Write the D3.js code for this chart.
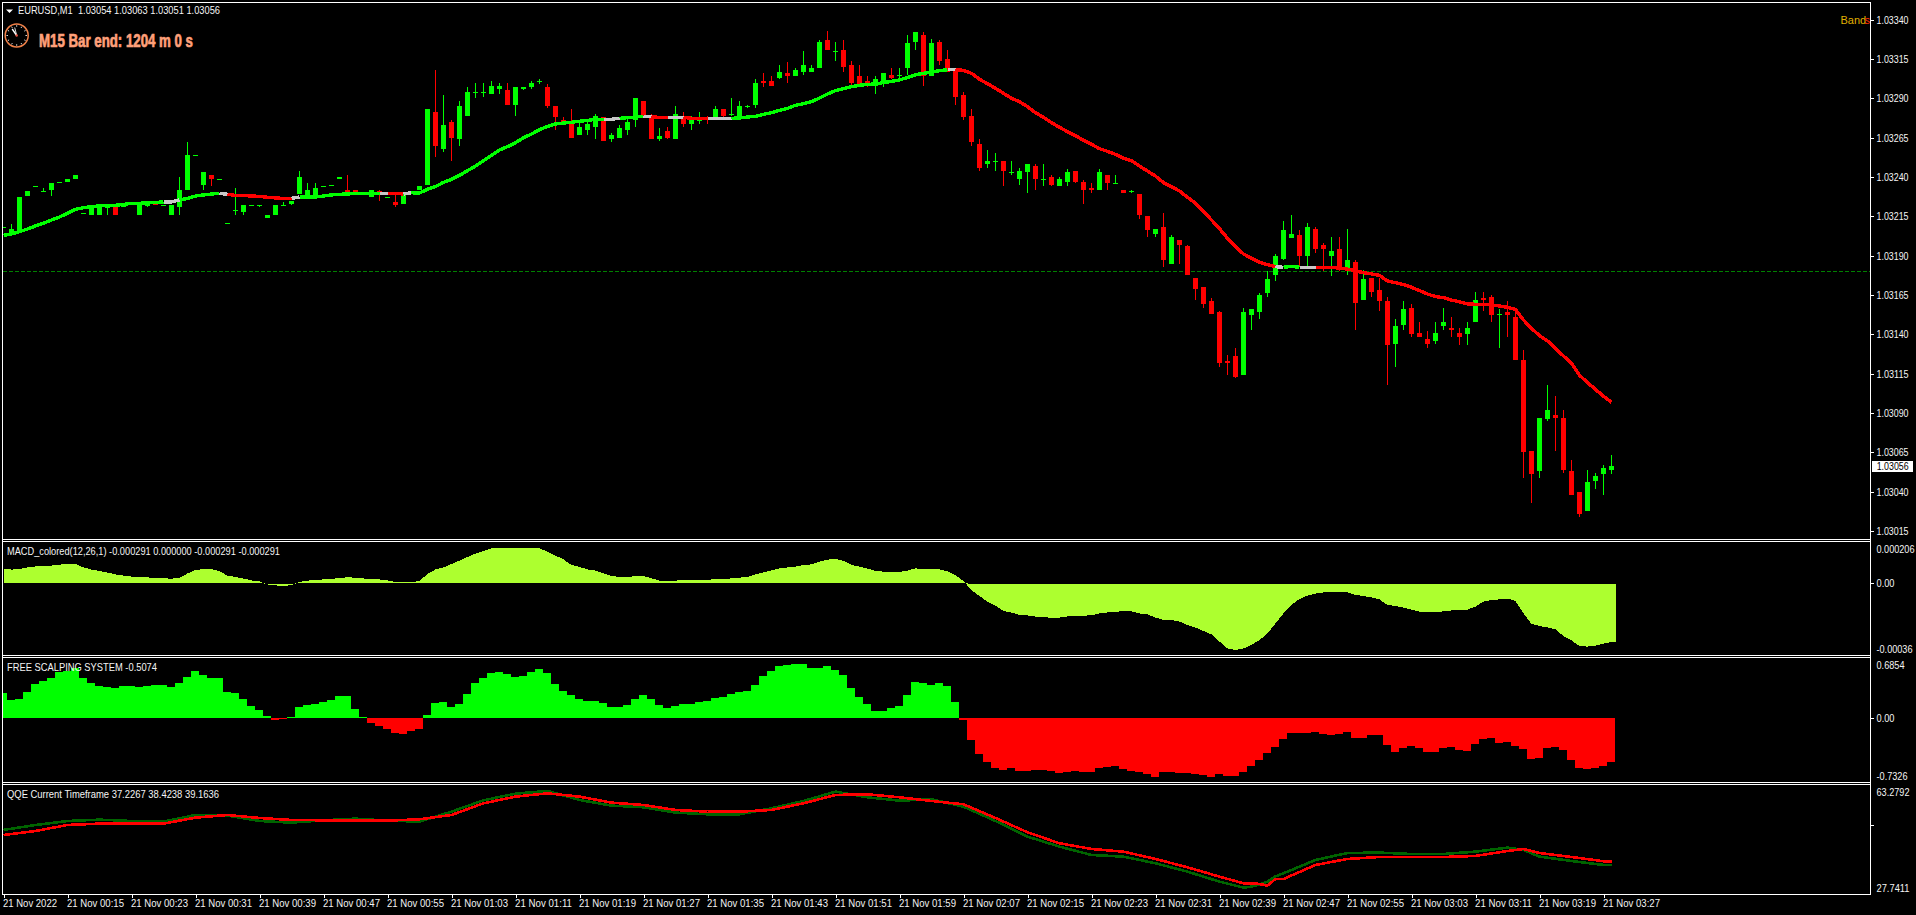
<!DOCTYPE html>
<html>
<head>
<meta charset="utf-8">
<script src="https://cdn.jsdelivr.net/npm/d3@7"></script>
<style>
html,body{margin:0;padding:0;background:#000;overflow:hidden}
svg{display:block;background:#000}
text{font-family:"Liberation Sans",Arial,sans-serif;font-size:11px;fill:#f4f4f4;white-space:pre}
</style>
</head>
<body>
<script>
// Prices are in points above 1.03000 (1 point = 0.00001)
const opens=[208,204,206,228,234,231,232,237,237,239,217,216,216,221,221,221,223,216,222,225,
222,216,221,232,254,235,241,239,211,219,218,222,222,214,216,222,223,229,228,228,
234,235,239,232,232,229,227,231,227,224,223,229,232,235,281,258,275,264,279,294,
294,293,296,295,286,296,297,301,297,285,276,275,267,270,272,278,264,265,270,276,
288,279,264,269,264,279,274,276,277,278,283,280,279,285,286,301,301,303,306,304,
307,307,309,327,320,321,311,304,301,298,300,305,305,309,326,330,304,326,315,309,
292,279,261,248,250,250,243,239,243,247,238,240,234,237,244,237,233,232,241,236,
232,231,229,215,204,208,185,200,196,176,170,161,154,123,126,114,152,154,166,178,
188,201,203,190,207,197,190,194,181,186,162,176,168,161,134,146,157,141,137,136,
145,144,141,140,148,163,164,153,154,151,124,66,53,86,89,87,53,40,28,47,51,54];
const highs=[208,210,227,231,234,233,236,237,239,241,217,221,221,221,221,223,223,223,222,225,
222,222,240,262,254,243,241,239,211,233,222,222,222,216,222,224,225,244,236,236,
234,235,240,241,232,229,232,232,227,229,229,231,234,283,308,292,276,288,297,300,
300,301,300,300,297,297,301,302,299,285,278,283,275,276,280,278,268,273,279,290,
288,280,271,272,285,281,279,281,279,285,283,290,288,286,302,306,304,311,313,309,
320,311,327,333,326,327,314,311,304,304,306,309,309,330,332,332,328,327,321,309,
294,283,264,257,255,250,250,246,248,248,248,241,240,245,244,238,236,245,241,241,
232,232,229,215,207,217,203,200,197,176,170,163,155,127,131,157,156,166,180,191,
212,216,206,211,208,198,202,202,207,187,181,176,176,164,150,161,159,148,142,148,
157,151,144,148,167,167,165,156,161,155,130,66,87,108,101,92,60,40,54,52,57,63];
const lows=[208,203,206,228,234,231,228,237,237,239,217,216,216,216,216,221,222,216,221,222,
222,216,216,232,254,232,234,239,211,216,216,222,221,214,216,222,222,229,228,228,
234,235,239,230,230,229,227,225,227,221,223,229,232,235,253,256,250,260,279,290,
291,293,293,286,279,295,296,299,284,270,274,265,267,267,264,263,262,265,267,272,
278,264,263,264,264,272,270,274,274,278,278,279,279,284,284,297,298,302,300,304,
305,307,309,321,314,307,298,299,297,293,297,302,303,305,321,298,304,311,307,286,
276,260,244,246,244,234,241,235,230,232,234,234,234,234,236,223,230,232,232,236,
230,230,213,202,202,183,185,185,178,162,157,153,119,114,112,114,143,150,164,174,
187,201,183,183,192,180,177,180,178,143,162,164,155,108,119,143,138,138,131,134,
143,138,133,133,148,155,148,131,138,124,49,33,49,85,66,52,38,24,28,42,38,51];
const closes=[208,207,227,231,234,231,236,237,239,241,217,221,221,221,216,223,222,223,222,222,
222,222,232,254,254,243,239,239,211,219,222,222,222,216,222,222,225,240,232,233,
234,235,240,230,230,229,232,230,227,222,229,231,234,283,260,273,265,285,294,294,
294,298,298,286,297,297,300,301,285,278,275,265,272,274,279,263,267,271,275,290,
279,264,266,265,280,274,276,276,276,283,279,280,285,285,300,300,298,307,304,308,
311,309,326,321,320,310,300,299,300,302,306,303,305,325,332,304,325,314,307,291,
278,262,246,250,250,244,243,244,248,239,239,235,239,243,237,232,232,243,236,236,
230,231,216,206,207,187,202,197,178,169,159,153,122,122,113,154,156,165,175,190,
206,204,190,208,194,194,193,181,187,160,175,167,161,133,145,156,140,138,134,141,
148,143,138,144,162,162,152,153,152,124,65,51,87,92,87,54,38,26,46,50,55,56];
const maValues=[202.9,203.8,205.3,206.9,208.9,210.6,212.7,214.6,216.9,219.5,220.5,221.2,221.6,222,222,222.6,223.3,223.3,223.5,223.9,
224.1,224.1,225.4,226.4,227.9,228.6,229.2,229.6,229,228.3,228.3,227.9,227.7,227.1,226.7,226.4,226.4,227.3,227.3,227.3,
227.9,228.6,229,229.2,229.6,229.6,229.6,229.6,229.6,229.6,229.2,230,229.8,232.2,233.9,236.6,238.5,241.1,244,247,
250.4,253.8,257.2,259.3,261.8,265,267.3,270.1,272.2,273.7,274.3,274.8,275.4,276,276.7,276.7,276.7,277.3,277.7,278.1,
278.6,278.3,277.9,277.9,277.9,277.9,277.3,277.3,277.3,277.3,277.3,277.3,277.5,278.1,278.6,279.8,280.9,282.4,283.6,285.6,
286.6,287.9,290.2,292.8,294.9,296.1,297.4,298.3,298.9,299.1,300,300.8,301.7,303.3,305,305.9,306.7,307.6,308.2,308.2,
307.8,305.9,302.1,299.3,296.4,293.2,290,287.9,284.7,280.9,277.9,274.5,271.6,268.8,266.3,263.3,260.8,258,256.3,254.4,
251.9,250.4,247,243.8,240.6,236.4,233.9,231.1,227.1,223.3,218,212.7,207.2,201,195.7,191.1,188.3,185.8,184.3,183,
182.6,183.2,182.6,182.6,182.6,182.6,182.6,182,181.5,180.3,179.2,178.4,177.5,173.9,172.8,171.6,169.9,167.8,165.6,164,
163.3,161.8,160.6,159.3,159.1,159.1,158.6,158,157.2,155.9,149.1,143.8,139.2,135.8,131.1,126.2,121.6,114,109.3,105,100.6,96.8];
const maRuns=[["up",20],["flat",2],["up",5],["flat",1],["down",8],["flat",1],["up",10],["flat",1],["down",2],["flat",1],["up",24],["flat",2],["up",3],["flat",1],["down",2],["flat",2],["down",3],["flat",3],["up",27],["flat",1],["down",40],["flat",1],["up",2],["flat",2],["down",37]];
const priceLine=180;
const priceTicks=[340,315,290,265,240,215,190,165,140,115,90,65,40,15];
const lastPrice=56;
// MACD in millionths
const macdValues=[73,67,70,78,83,85,87,92,95,95,78,67,60,52,43,37,32,30,28,25,
23,22,25,48,65,70,70,58,37,30,22,13,8,-7,-12,-15,-10,5,12,15,
18,22,23,30,25,23,18,18,13,5,5,5,10,45,68,78,95,112,130,147,
160,173,173,173,173,173,173,173,157,137,118,90,80,68,62,48,35,30,30,35,
35,23,12,10,12,15,15,17,17,18,20,23,27,30,43,53,63,73,78,82,
90,93,107,117,120,110,90,82,72,60,57,55,55,62,73,70,68,68,58,40,
10,-35,-65,-93,-113,-140,-148,-160,-162,-168,-172,-173,-173,-167,-165,-163,-162,-152,-147,-143,
-142,-142,-152,-157,-173,-185,-185,-193,-210,-223,-240,-257,-293,-327,-335,-327,-310,-285,-252,-202,
-152,-110,-80,-63,-53,-47,-43,-43,-47,-60,-65,-72,-82,-110,-115,-123,-133,-143,-145,-145,
-142,-137,-135,-133,-118,-93,-85,-82,-78,-90,-152,-205,-215,-222,-232,-265,-287,-315,-318,-313,-303,-295];
const fssValues=[.284,.201,.209,.292,.383,.417,.451,.523,.531,.569,.451,.398,.360,.349,.337,.360,.360,.349,.360,.372,
.372,.349,.394,.463,.531,.485,.451,.451,.292,.281,.212,.133,.087,.019,-.027,-.011,.004,.121,.144,.155,
.178,.201,.246,.246,.099,.008,-.057,-.095,-.129,-.174,-.186,-.152,-.129,.030,.167,.178,.121,.155,.269,.394,
.451,.508,.520,.497,.463,.474,.520,.554,.508,.383,.303,.258,.212,.190,.190,.167,.121,.121,.144,.212,
.258,.212,.144,.110,.133,.155,.155,.178,.190,.224,.235,.269,.292,.303,.372,.474,.531,.588,.599,.611,
.611,.565,.565,.588,.542,.485,.337,.235,.155,.076,.076,.110,.133,.258,.406,.394,.375,.394,.360,.178,
-.027,-.254,-.413,-.504,-.573,-.595,-.573,-.607,-.607,-.595,-.595,-.607,-.629,-.618,-.607,-.618,-.618,-.573,-.561,-.550,
-.584,-.607,-.618,-.641,-.675,-.618,-.618,-.629,-.629,-.641,-.652,-.675,-.641,-.664,-.664,-.618,-.550,-.482,-.402,-.334,
-.243,-.174,-.174,-.174,-.163,-.186,-.197,-.186,-.163,-.231,-.231,-.197,-.197,-.311,-.391,-.345,-.322,-.345,-.391,-.391,
-.345,-.334,-.368,-.379,-.300,-.243,-.231,-.288,-.277,-.322,-.356,-.470,-.459,-.345,-.334,-.368,-.482,-.573,-.584,-.573,-.550,-.507];
const qqeBars=[0,4,8,12,16,20,24,28,32,36,40,44,48,52,56,60,64,68,72,76,80,84,88,92,96,100,104,108,112,116,120,124,128,132,136,140,144,148,152,155,156,157,158,159,160,164,168,172,176,180,184,188,190,192,196,200,201];
const qqeSlow=[48.53,50.14,51.43,51.86,51.43,51.22,53.37,53.16,51.43,50.89,51.65,52.19,51.54,51.22,54.45,58.11,60.26,61.13,58.22,56.39,55.85,54.13,53.59,53.59,55.53,57.89,60.91,59.08,58,58.43,56.06,51.43,46.37,43.14,40.45,39.91,37.76,35.06,31.83,29.89,30.22,30.97,31.83,33.55,34.52,38.83,41.09,41.2,40.77,40.77,41.52,42.82,42.06,39.91,38.51,37.2267,37.2267];
const qqeFast=[46.91,48.2,50.14,50.57,50.57,50.57,52.51,53.37,52.4,51.76,51.65,51.65,51.54,51.97,53.37,57.14,59.3,60.37,59.3,57.36,56.6,54.99,54.45,54.45,54.99,57.14,59.83,60.05,59.08,57.89,56.82,52.4,47.77,44.22,42.39,41.52,39.16,36.46,33.45,31.29,31.29,31.08,30.54,32.69,32.69,37.22,39.16,39.8,39.8,39.8,40.12,41.74,42.39,41.09,39.8,38.4238,38.4238];
const macdTicks=[0.000206,0,-0.00036];
const fssTicks=[0.6854,0,-0.7326];
const qqeTicks=[63.2792,50,27.7411];
const timeTickBars=d3.range(0,201,8);
const timeTickLabels=["21 Nov 2022","21 Nov 00:15","21 Nov 00:23","21 Nov 00:31","21 Nov 00:39","21 Nov 00:47","21 Nov 00:55","21 Nov 01:03","21 Nov 01:11","21 Nov 01:19","21 Nov 01:27","21 Nov 01:35","21 Nov 01:43","21 Nov 01:51","21 Nov 01:59","21 Nov 02:07","21 Nov 02:15","21 Nov 02:23","21 Nov 02:31","21 Nov 02:39","21 Nov 02:47","21 Nov 02:55","21 Nov 03:03","21 Nov 03:11","21 Nov 03:19","21 Nov 03:27"];

[opens,highs,lows,closes,maValues,macdValues,fssValues].forEach((a,k)=>{if(a.length!==202)throw new Error("bad length "+k+" "+a.length)});
[qqeSlow,qqeFast].forEach(a=>{if(a.length!==qqeBars.length)throw new Error("bad qqe "+a.length+" "+qqeBars.length)});

const W=1916,H=915,axisX=1870,bottomY=894;
const GREEN="#00ff00",RED="#ff0000",GREY="#c8c8c8",WHITE="#ffffff";
const svg=d3.select("body").append("svg").attr("width",W).attr("height",H);
svg.append("defs").append("clipPath").attr("id","plot").append("rect").attr("x",3).attr("y",3).attr("width",axisX-3).attr("height",bottomY-3);

const x=d3.scaleLinear().domain([0,201]).range([3,1611]);
const yMain=d3.scaleLinear().domain([15,340]).range([531,19.67]);
const yMacd=d3.scaleLinear().domain([-0.00036,0.000206]).range([655,541.8]);
const yFss=d3.scaleLinear().domain([-0.7326,0.6854]).range([782,657.3]);
const yQqe=d3.scaleLinear().domain([27.7411,63.2792]).range([894.3,784.3]);

const plot=svg.append("g").attr("clip-path","url(#plot)").attr("shape-rendering","crispEdges");

// price line
plot.append("line").attr("x1",3).attr("x2",axisX).attr("y1",Math.round(yMain(priceLine))+.5).attr("y2",Math.round(yMain(priceLine))+.5)
  .attr("stroke","#008000").attr("stroke-dasharray","4,2");

// candles
const idx=d3.range(opens.length);
const col=i=>closes[i]>=opens[i]?GREEN:RED;
plot.append("g").selectAll("rect").data(idx).join("rect")
  .attr("x",i=>x(i)).attr("width",1)
  .attr("y",i=>Math.round(yMain(highs[i]))).attr("height",i=>Math.max(1,Math.round(yMain(lows[i]))-Math.round(yMain(highs[i]))))
  .attr("fill",col);
plot.append("g").selectAll("rect").data(idx).join("rect")
  .attr("x",i=>x(i)-2).attr("width",5)
  .attr("y",i=>Math.round(yMain(Math.max(opens[i],closes[i]))))
  .attr("height",i=>Math.max(1,Math.round(yMain(Math.min(opens[i],closes[i])))-Math.round(yMain(Math.max(opens[i],closes[i])))))
  .attr("fill",col);

// moving average
const maLine=d3.line().x(i=>x(i)+.5).y(i=>yMain(maValues[i]));
const maColors={up:GREEN,down:RED,flat:GREY};
let start=0;
const maG=plot.append("g");
maRuns.forEach(([state,n])=>{
  maG.append("path").attr("d",maLine(d3.range(start,start+n+1))).attr("fill","none").attr("stroke",maColors[state]).attr("stroke-width",3.4);
  start+=n;
});

// MACD
const macdPts=idx.map(i=>({i,v:macdValues[i]/1e6}));
macdPts.push({i:201.5,v:macdValues[201]/1e6});
const zeroM=Math.round(yMacd(0));
plot.append("path").attr("fill","#adff2f").attr("d",d3.area().x(d=>x(d.i)+.5).y0(d=>d.v<0?zeroM+1:zeroM).y1(d=>yMacd(d.v))(macdPts));

// Free scalping system
const zeroF=Math.round(yFss(0));
plot.append("g").selectAll("rect").data(idx).join("rect")
  .attr("x",i=>x(i)-4).attr("width",8)
  .attr("y",i=>fssValues[i]>=0?Math.round(yFss(fssValues[i])):zeroF)
  .attr("height",i=>Math.max(1,Math.abs(Math.round(yFss(fssValues[i]))-zeroF)))
  .attr("fill",i=>fssValues[i]>=0?GREEN:RED);

// QQE
const qLine=arr=>d3.line().x((b)=>x(b)+.5).y((b,k)=>yQqe(arr[k]))(qqeBars);
plot.append("path").attr("d",qLine(qqeSlow)).attr("fill","none").attr("stroke","#006400").attr("stroke-width",2.6);
plot.append("path").attr("d",qLine(qqeFast)).attr("fill","none").attr("stroke",RED).attr("stroke-width",2.6);

// frame
const frame=svg.append("g").attr("stroke",WHITE).attr("shape-rendering","crispEdges");
[2,539,541,655,657,782,784,894].forEach(r=>frame.append("line").attr("x1",2).attr("x2",axisX+1).attr("y1",r+.5).attr("y2",r+.5));
frame.append("line").attr("x1",2.5).attr("x2",2.5).attr("y1",2).attr("y2",895);
frame.append("line").attr("x1",axisX+.5).attr("x2",axisX+.5).attr("y1",2).attr("y2",895);

// axes
function styleAxis(g){g.select(".domain").remove();g.selectAll("line").attr("stroke",WHITE).attr("shape-rendering","crispEdges");}
const priceAxis=d3.axisRight(yMain).tickValues(priceTicks).tickSize(3).tickPadding(3).tickFormat(d=>(1.03+d/1e5).toFixed(5));
const gp=svg.append("g").attr("transform",`translate(${axisX+.5},0)`).call(priceAxis).call(styleAxis);
gp.selectAll("text").attr("textLength",32).attr("lengthAdjust","spacingAndGlyphs");

function subAxis(scale,ticks,labels,widths,dys){
  const ax=d3.axisRight(scale).tickValues(ticks).tickSize(3).tickPadding(3).tickFormat((d,i)=>labels[i]);
  const g=svg.append("g").attr("transform",`translate(${axisX+.5},0)`).call(ax).call(styleAxis);
  g.selectAll(".tick").each(function(d,i){
    const t=d3.select(this);
    if(dys[i]!==0)t.select("line").remove();
    t.select("text").attr("dy",null).attr("y",dys[i]+3.8);
    if(widths[i]>0)t.select("text").attr("textLength",widths[i]).attr("lengthAdjust","spacingAndGlyphs");
  });
}
subAxis(yMacd,macdTicks,["0.000206","0.00","-0.00036"],[38,18,36],[6.6,0,-6.3]);
subAxis(yFss,fssTicks,["0.6854","0.00","-0.7326"],[28,18,31],[7,0,-6.3]);
subAxis(yQqe,qqeTicks,["63.2792","","27.7411"],[33,0,33],[7.4,0,-6.6]);

const timeAxis=d3.axisBottom(x).tickValues(timeTickBars).tickSize(3).tickPadding(0).tickFormat((d,i)=>timeTickLabels[i]);
const gt=svg.append("g").attr("transform",`translate(.5,${bottomY+.5})`).call(timeAxis).call(styleAxis);
gt.selectAll("text").attr("text-anchor","start").attr("dy",null).attr("x",-1).attr("y",12.3)
  .attr("textLength",(d,i)=>i===0?54:57).attr("lengthAdjust","spacingAndGlyphs");

// current price tag
svg.append("rect").attr("x",1872).attr("y",Math.round(yMain(lastPrice))-5).attr("width",41).attr("height",11).attr("fill",WHITE);
svg.append("text").attr("x",1876.7).attr("y",yMain(lastPrice)+3.8).attr("textLength",32).attr("lengthAdjust","spacingAndGlyphs").style("fill","#000").text((1.03+lastPrice/1e5).toFixed(5));

// header texts
const label=(tx,ty,s,len)=>svg.append("text").attr("x",tx).attr("y",ty).attr("textLength",len).attr("lengthAdjust","spacingAndGlyphs").text(s);
svg.append("path").attr("d","M6,9.5H13L9.5,13Z").attr("fill",WHITE);
label(18,14.2,"EURUSD,M1  1.03054 1.03063 1.03051 1.03056",202);
label(7,554.5,"MACD_colored(12,26,1) -0.000291 0.000000 -0.000291 -0.000291",273);
label(7,670.5,"FREE SCALPING SYSTEM -0.5074",150);
label(7,797.5,"QQE Current Timeframe 37.2267 38.4238 39.1636",212);

// timer text and clock
svg.append("text").attr("x",39).attr("y",47).attr("textLength",154).attr("lengthAdjust","spacingAndGlyphs")
  .style("font-family",'"Liberation Sans Narrow","Liberation Sans",sans-serif').style("font-size","18px").style("font-weight","bold").style("fill","#ffa07a")
  .style("stroke","#ffa07a").style("stroke-width",".7px")
  .text("M15 Bar end: 1204 m 0 s");
const clock=svg.append("g").attr("transform","translate(16.7,35.5)");
clock.append("circle").attr("r",11.5).attr("fill","none").attr("stroke","#f08048").attr("stroke-width",1.5);
d3.range(12).forEach(h=>{const a=h*Math.PI/6;clock.append("line").attr("x1",8.8*Math.sin(a)).attr("y1",-8.8*Math.cos(a)).attr("x2",10.2*Math.sin(a)).attr("y2",-10.2*Math.cos(a)).attr("stroke","#eee").attr("stroke-width",1)});
clock.append("line").attr("x1",0).attr("y1",0).attr("x2",-4.5).attr("y2",-6.5).attr("stroke","#fff").attr("stroke-width",1.4);
clock.append("line").attr("x1",0).attr("y1",0).attr("x2",-2).attr("y2",-8).attr("stroke","#ddd").attr("stroke-width",1);
clock.append("circle").attr("r",1.2).attr("fill","#e8503f");

// truncated label at top right
svg.append("text").attr("x",1840.5).attr("y",23.5).style("fill","#e0b000").text("Band");
svg.append("text").attr("x",1864.5).attr("y",23.5).style("fill","#ff3000").text("s");
</script>
</body>
</html>
